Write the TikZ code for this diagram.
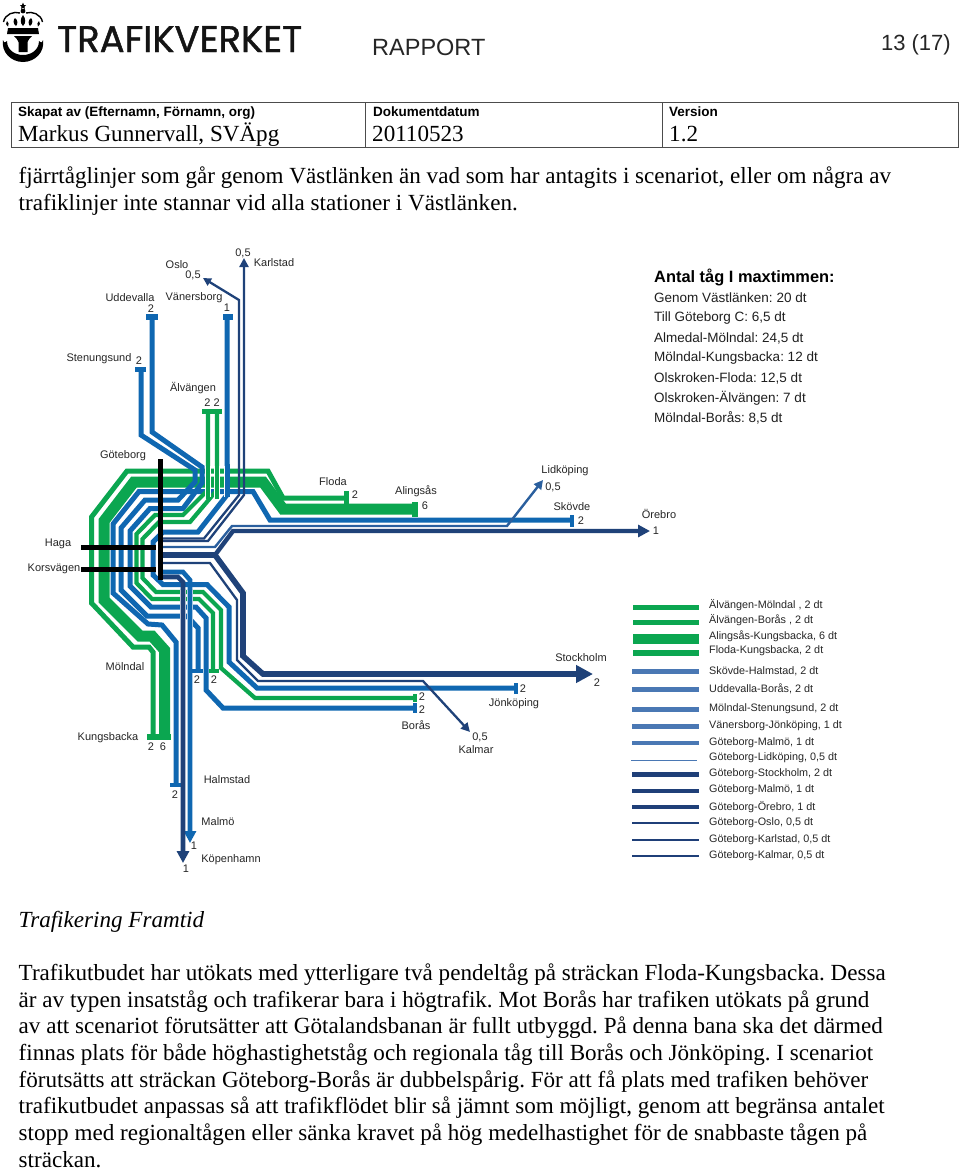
\documentclass[tikz,border=0pt]{standalone}
\usepackage{fontspec}
\setmainfont{Liberation Serif}
\setsansfont{Liberation Sans}
\newfontfamily\logofont[FakeBold=1.2]{Poppins}
\usetikzlibrary{arrows.meta}
\definecolor{tgreen}{HTML}{0BA650}
\definecolor{tblue}{HTML}{0F67B1}
\definecolor{tdark}{HTML}{1F4279}
\definecolor{tmid}{HTML}{2A5F9E}
\definecolor{lmid}{HTML}{4A78B4}
\definecolor{ldark}{HTML}{1F3F78}
\AtBeginDocument{\frenchspacing}
\tikzset{
 body/.style={anchor=base west,inner sep=0pt,font=\fontsize{23.1}{26}\selectfont},
 lab/.style={inner sep=0pt,font=\sffamily\fontsize{11}{13}\selectfont,text=black!85},
 leg/.style={anchor=west,inner sep=0pt,font=\sffamily\fontsize{10.8}{13}\selectfont,text=black!85},
 ant/.style={anchor=west,inner sep=0pt,font=\sffamily\fontsize{13.5}{16}\selectfont,text=black!88},
 hd/.style={anchor=base west,inner sep=0pt,font=\sffamily\bfseries\fontsize{13.5}{16}\selectfont},
 track/.style={line join=miter,miter limit=3},
 gl/.style={track,draw=tgreen,line width=5pt},
 gk/.style={track,draw=tgreen,line width=11pt},
 gs/.style={track,draw=tgreen,line width=4.2pt},
 bl/.style={track,draw=tblue,line width=5pt},
 dk/.style={track,draw=tdark,line width=4.4pt},
 dks/.style={track,draw=tdark,line width=5.6pt},
 th/.style={track,draw=tdark,line width=2.3pt},
 halo/.style={draw=white,line width=#1},
 blk/.style={draw=black,line width=5pt},
 arr/.style={-{Triangle[length=#1,width=#1]}},
 lg/.style={line width=#1},
}
\begin{document}
\begin{tikzpicture}[x=1pt,y=-1pt]
\useasboundingbox (0,0) rectangle (960,1171);
\fill[white] (0,0) rectangle (960,1171);

% ---------- logo
\fill[black] (23,2.5) -- (24,5) -- (26.2,5) -- (24.5,6.5) -- (25,9) -- (23,7.6) -- (21,9) -- (21.5,6.5) -- (19.8,5) -- (22,5) -- cycle;
\draw[black,line width=1.4pt] (3.5,22) .. controls (5,14) and (14,11) .. (20,13);
\draw[black,line width=1.4pt] (42.5,22) .. controls (41,14) and (32,11) .. (26,13);
\fill[black] (23,11) circle (2.4);
\fill[black] (23,15) .. controls (26,19) and (26,23) .. (23,26) .. controls (20,23) and (20,19) .. (23,15) -- cycle;
\fill[black] (15,18) .. controls (18,20) and (18,24) .. (16,26) .. controls (13,24) and (13,20) .. (15,18) -- cycle;
\fill[black] (31,18) .. controls (33,20) and (33,24) .. (30,26) .. controls (28,24) and (28,20) .. (31,18) -- cycle;
\fill[black] (7,21) .. controls (9,22) and (9,25) .. (8,26.5) .. controls (5.5,25.5) and (5.5,23) .. (7,21) -- cycle;
\fill[black] (39,21) .. controls (40.5,23) and (40.5,25.5) .. (38,26.5) .. controls (37,25) and (37,22) .. (39,21) -- cycle;
\fill[black] (8,28) -- (38,28) -- (39,34) -- (7,34) -- cycle;
\fill[black] (14,36) -- (32,36) .. controls (30,39) and (28,39) .. (27.5,42) -- (27.5,52) -- (18.5,52) -- (18.5,42) .. controls (18,39) and (16,39) .. (14,36) -- cycle;
\fill[black] (3,40) .. controls (4,44) and (6,42) .. (7,41) .. controls (7,50) and (15,55) .. (23,55) .. controls (31,55) and (39,50) .. (39,41) .. controls (40,42) and (42,44) .. (43,40) .. controls (45,52) and (35,62) .. (23,62) .. controls (11,62) and (1,52) .. (3,40) -- cycle;
\node[anchor=base west,inner sep=0pt,font=\logofont\fontsize{37}{40}\selectfont,text=black!92] (logo) at (57,52) {TRAFIKVERKET};

% ---------- header
\node[anchor=base west,inner sep=0pt,font=\sffamily\fontsize{23.5}{28}\selectfont,text=black!85] (rapport) at (372,55) {RAPPORT};
\node[anchor=base east,inner sep=0pt,font=\sffamily\fontsize{22}{25}\selectfont,text=black!85] (page) at (951,50) {13 (17)};
\draw[black!70,line width=0.9pt] (11,102) rectangle (958.5,147);
\draw[black!70,line width=0.9pt] (365.5,102) -- (365.5,147) (662,102) -- (662,147);
\node[hd] (h1) at (18,116) {Skapat av (Efternamn, Förnamn, org)};
\node[hd] (h2) at (373,116) {Dokumentdatum};
\node[hd] (h3) at (669,116) {Version};
\node[body] (v1) at (18,141) {Markus Gunnervall, SVÄpg};
\node[body] (v2) at (372,141) {20110523};
\node[body] (v3) at (669,141) {1.2};
\node[body] (t1) at (18.5,183) {fjärrtåglinjer som går genom Västlänken än vad som har antagits i scenariot, eller om några av};
\node[body] (t2) at (18.5,210) {trafiklinjer inte stannar vid alla stationer i Västlänken.};

% ---------- thick/outer greens
\draw[gl] (346,498) -- (283,498) -- (268,471) -- (127,471) -- (91.5,517) -- (91.5,603) -- (133,647) -- (149,647) -- (153,652) -- (153,738);
\draw[gk] (415,509) -- (283,509) -- (263,482) -- (134,482) -- (104,521) -- (104,600) -- (140,636) -- (152,636) -- (164.5,650) -- (164.5,738);
\fill[tgreen] (343.5,491) rectangle (348.5,504);
\fill[tgreen] (412,502) rectangle (418,517);
\fill[tgreen] (147,734) rectangle (171,740);

% ---------- blue rows
\draw[bl] (572,520) -- (270,520) -- (253,491.5) -- (139,491.5) -- (113,524) -- (113,593) -- (148,624) -- (162,625) -- (176,642) -- (176,785);
\draw[bl] (141,370) -- (141,435) -- (195,470) -- (195,482) -- (178,500) -- (145,500) -- (121,528) -- (121,590) -- (147,616) -- (187,616) -- (198,628) -- (198,671);
\draw[bl] (152,317) -- (152,432) -- (202,467) -- (202,483) -- (183,508.5) -- (150,508.5) -- (130,531) -- (130,586) -- (151,607) -- (196,607) -- (206,618) -- (206,690) -- (223,708) -- (415,708);
\draw[gs] (208,412) -- (208,490) -- (183,515) -- (155,515) -- (136.5,534) -- (136.5,583) -- (152,599) -- (199,599) -- (213,613) -- (213,671);
\draw[gs] (217,412) -- (217,490) -- (190,522) -- (159,522) -- (142.5,539) -- (142.5,578) -- (156,592) -- (203,592) -- (221,610) -- (221,668) -- (255,698) -- (413,698);
\draw[bl] (227,317) -- (227,495) -- (198,532) -- (163,532) -- (153,542) -- (153,575) -- (163,584.5) -- (207,584.5) -- (229,607) -- (229,662) -- (257,688) -- (516,688);

% white casing where the north verticals cross the rows
\draw[halo=5.6pt] (208,466) -- (208,497) (217,466) -- (217,497);
\draw[halo=6.6pt] (227,466) -- (227,497);
\draw[gs] (208,464) -- (208,499) (217,464) -- (217,499);
\draw[bl] (227,464) -- (227,497);

% end bars
\fill[tblue] (146,314) rectangle (158,319.5);
\fill[tblue] (135,367) rectangle (146,372);
\fill[tblue] (222.5,314) rectangle (233,319.5);
\fill[tgreen] (202,409) rectangle (222,414);
\fill[tblue] (191,669) rectangle (203,673);
\fill[tgreen] (209,669) rectangle (219,673);
\fill[tblue] (170,783) rectangle (182,787);
\fill[tblue] (569.5,515) rectangle (574,527);
\fill[tblue] (513.5,682.5) rectangle (518,694);
\fill[tgreen] (413,694) rectangle (417,702);
\fill[tblue] (413,703) rectangle (417,713);

% ---------- dark lines
\draw[th,arr=8] (163,538.5) -- (204,538.5) -- (239,495) -- (239,300) -- (203,278);
\draw[th,arr=9] (163,541) -- (208,541) -- (244,495) -- (244,258);
\draw[track,draw=tmid,line width=2.4pt,arr=9] (163,547) -- (215,547) -- (232,526) -- (507,526) -- (543,480);
\draw[dk,arr=12] (163,555) -- (215,555) -- (233,531) -- (650,531);
\draw[dks,arr=17] (163,555) -- (215,555) -- (243,593) -- (243,656) -- (263,674) -- (593,674);
\draw[th,arr=9] (163,563) -- (210,563) -- (237,600) -- (237,660) -- (258,681) -- (423,681) -- (470,732);

% ---------- through lines to Malmö / Köpenhamn
\draw[halo=6.4pt] (183,590) -- (183,650) (190,590) -- (190,650);
\draw[bl,line width=4.6pt,arr=12] (163,572) -- (183,572) -- (190,580) -- (190,843);
\draw[dk,line width=4.6pt,arr=12] (163,577) -- (178,577) -- (183,582) -- (183,863);

% ---------- black stations
\draw[blk] (160.5,459) -- (160.5,580);
\draw[blk] (81,547) -- (156,547);
\draw[blk] (81,569) -- (156,569);

% ---------- map labels
\node[lab] (oslo) at (177,265) {Oslo};
\node[lab] (osn) at (193,275) {0,5};
\node[lab] (karl) at (274,263) {Karlstad};
\node[lab] (karn) at (243,253) {0,5};
\node[lab] (udde) at (130,298) {Uddevalla};
\node[lab] (uddn) at (151,309) {2};
\node[lab] (vane) at (194,298) {Vänersborg};
\node[lab] (vann) at (227,308) {1};
\node[lab] (sten) at (99,359) {Stenungsund};
\node[lab] (stnn) at (139,361) {2};
\node[lab] (alva) at (193,388) {Älvängen};
\node[lab] (alvn) at (212,403) {2 2};
\node[lab] (gote) at (123,456) {Göteborg};
\node[lab] (flod) at (333,482) {Floda};
\node[lab] (flon) at (355,495) {2};
\node[lab] (alin) at (416,491) {Alingsås};
\node[lab] (alnn) at (425,506) {6};
\node[lab] (lidk) at (565,471) {Lidköping};
\node[lab] (lidn) at (553,487) {0,5};
\node[lab] (skov) at (572,507) {Skövde};
\node[lab] (skon) at (581,521) {2};
\node[lab] (oreb) at (659,514) {Örebro};
\node[lab] (oren) at (656,531) {1};
\node[lab] (haga) at (58,544) {Haga};
\node[lab] (kors) at (54,569) {Korsvägen};
\node[lab] (moln) at (125,667) {Mölndal};
\node[lab] (stoc) at (581,658) {Stockholm};
\node[lab] (ston) at (597,683) {2};
\node[lab] (m1) at (197,680) {2};
\node[lab] (m2) at (214,680) {2};
\node[lab] (b1) at (422,697) {2};
\node[lab] (b2) at (422,710) {2};
\node[lab] (jonn) at (523,689) {2};
\node[lab] (jonk) at (514,704) {Jönköping};
\node[lab] (bora) at (416,725) {Borås};
\node[lab] (kaln) at (480,737) {0,5};
\node[lab] (kalm) at (476,750) {Kalmar};
\node[lab] (kung) at (108,738) {Kungsbacka};
\node[lab] (ku1) at (151,747) {2};
\node[lab] (ku2) at (163,747) {6};
\node[lab] (halm) at (227,780) {Halmstad};
\node[lab] (haln) at (175,795) {2};
\node[lab] (malm) at (218,822) {Malmö};
\node[lab] (maln) at (194,846) {1};
\node[lab] (kope) at (231,860) {Köpenhamn};
\node[lab] (kopn) at (186,869) {1};

% ---------- Antal box
\node[anchor=west,inner sep=0pt,font=\sffamily\bfseries\fontsize{16.4}{18}\selectfont] (antal) at (654,277) {Antal tåg I maxtimmen:};
\node[ant] (a1) at (654,298) {Genom Västlänken: 20 dt};
\node[ant] (a2) at (654,318) {Till Göteborg C: 6,5 dt};
\node[ant] (a3) at (654,338) {Almedal-Mölndal: 24,5 dt};
\node[ant] (a4) at (654,358) {Mölndal-Kungsbacka: 12 dt};
\node[ant] (a5) at (654,378) {Olskroken-Floda: 12,5 dt};
\node[ant] (a6) at (654,398) {Olskroken-Älvängen: 7 dt};
\node[ant] (a7) at (654,418) {Mölndal-Borås: 8,5 dt};

% ---------- legend
\draw[tgreen,lg=5.5pt] (633,607.5) -- (699,607.5);
\draw[tgreen,lg=5.5pt] (633,622.5) -- (699,622.5);
\draw[tgreen,lg=10pt] (633,638.5) -- (699,638.5);
\draw[tgreen,lg=6.5pt] (633,653) -- (699,653);
\draw[lmid,lg=5pt] (632,671) -- (699,671);
\draw[lmid,lg=5pt] (632,689) -- (699,689);
\draw[lmid,lg=5pt] (632,709) -- (699,709);
\draw[lmid,lg=5pt] (632,726.5) -- (699,726.5);
\draw[lmid,lg=4pt] (632,743) -- (699,743);
\draw[lmid,lg=1.5pt] (631,760.5) -- (697,760.5);
\draw[ldark,lg=5pt] (632,774) -- (699,774);
\draw[ldark,lg=4pt] (632,790.5) -- (699,790.5);
\draw[ldark,lg=4pt] (632,807) -- (699,807);
\draw[ldark,lg=2.5pt] (632,823) -- (699,823);
\draw[ldark,lg=2.5pt] (632,840) -- (699,840);
\draw[ldark,lg=2.5pt] (632,856) -- (699,856);
\node[leg] (l1) at (709,605) {Älvängen-Mölndal , 2 dt};
\node[leg] (l2) at (709,620) {Älvängen-Borås , 2 dt};
\node[leg] (l3) at (709,636) {Alingsås-Kungsbacka, 6 dt};
\node[leg] (l4) at (709,651) {Floda-Kungsbacka, 2 dt};
\node[leg] (l5) at (709,671) {Skövde-Halmstad, 2 dt};
\node[leg] (l6) at (709,689) {Uddevalla-Borås, 2 dt};
\node[leg] (l7) at (709,709) {Mölndal-Stenungsund, 2 dt};
\node[leg] (l8) at (709,726) {Vänersborg-Jönköping, 1 dt};
\node[leg] (l9) at (709,743) {Göteborg-Malmö, 1 dt};
\node[leg] (l10) at (709,758) {Göteborg-Lidköping, 0,5 dt};
\node[leg] (l11) at (709,774) {Göteborg-Stockholm, 2 dt};
\node[leg] (l12) at (709,790) {Göteborg-Malmö, 1 dt};
\node[leg] (l13) at (709,807) {Göteborg-Örebro, 1 dt};
\node[leg] (l14) at (709,823) {Göteborg-Oslo, 0,5 dt};
\node[leg] (l15) at (709,840) {Göteborg-Karlstad, 0,5 dt};
\node[leg] (l16) at (709,856) {Göteborg-Kalmar, 0,5 dt};

% ---------- lower text
\node[body,font=\itshape\fontsize{23.1}{26}\selectfont] (tf) at (18.5,927.5) {Trafikering Framtid};
\node[body] (b1t) at (18.5,980) {Trafikutbudet har utökats med ytterligare två pendeltåg på sträckan Floda-Kungsbacka. Dessa};
\node[body] (b2t) at (18.5,1007) {är av typen insatståg och trafikerar bara i högtrafik. Mot Borås har trafiken utökats på grund};
\node[body] (b3t) at (18.5,1033.5) {av att scenariot förutsätter att Götalandsbanan är fullt utbyggd. På denna bana ska det därmed};
\node[body] (b4t) at (18.5,1060) {finnas plats för både höghastighetståg och regionala tåg till Borås och Jönköping. I scenariot};
\node[body] (b5t) at (18.5,1087) {förutsätts att sträckan Göteborg-Borås är dubbelspårig. För att få plats med trafiken behöver};
\node[body] (b6t) at (18.5,1113.5) {trafikutbudet anpassas så att trafikflödet blir så jämnt som möjligt, genom att begränsa antalet};
\node[body] (b7t) at (18.5,1140) {stopp med regionaltågen eller sänka kravet på hög medelhastighet för de snabbaste tågen på};
\node[body] (b8t) at (18.5,1167) {sträckan.};
\end{tikzpicture}
\end{document}
